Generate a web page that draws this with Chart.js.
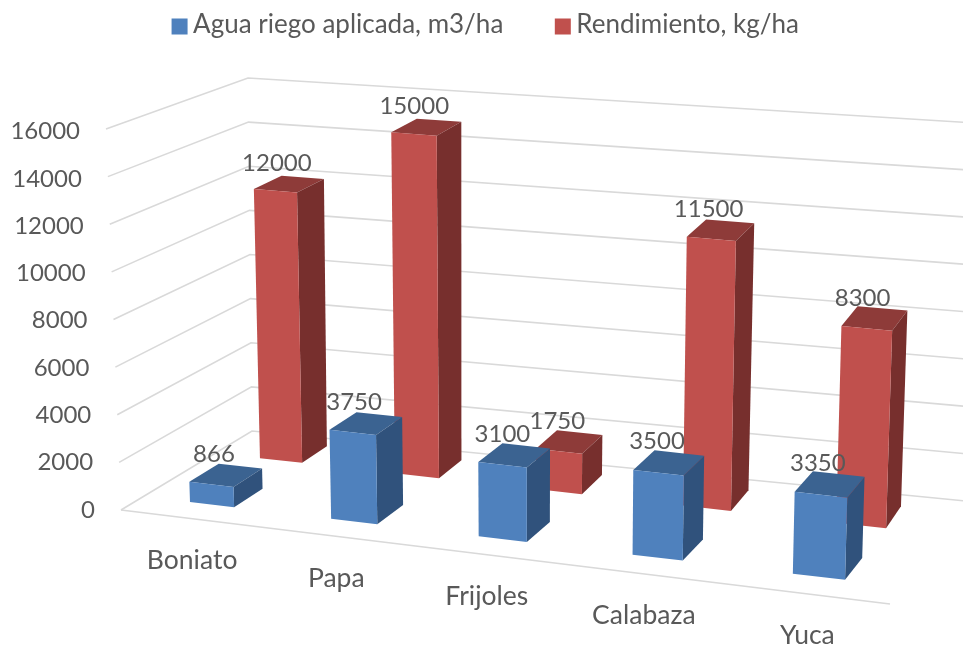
<!DOCTYPE html>
<html>
<head>
<meta charset="utf-8">
<title>Agua riego y rendimiento</title>
<script src="https://cdn.jsdelivr.net/npm/chart.js@4"></script>
<style>
    html, body { margin: 0; padding: 0; background: #ffffff; }
    #wrap { width: 963px; height: 645px; }
    /* the reference is a soft, upscaled screenshot */
    #chart { filter: blur(0.5px); }
</style>
</head>
<body>
<div id="wrap"><canvas id="chart"></canvas></div>
<script>
const categories = ["Boniato", "Papa", "Frijoles", "Calabaza", "Yuca"];
const agua = [866, 3750, 3100, 3500, 3350];
const rendimiento = [12000, 15000, 1750, 11500, 8300];
const yTicks = [0, 2000, 4000, 6000, 8000, 10000, 12000, 14000, 16000];

const textColor = "#595959";
const gridColor = "#d9d9d9";
const fontName = "Lato";

// corners of the 3D box on screen
const box = {
    frontBottomLeft: [121, 510], frontBottomRight: [890, 604],
    backBottomLeft: [252, 431], backBottomRight: [960, 500.5],
    frontTopLeft: [106, 129], frontTopRight: [902, 207],
    backTopLeft: [248, 78], backTopRight: [974, 123],
};

// depth slot of each series on the floor, and its face colours
const rows = [
    { near: 0.17, far: 0.40, front: "#4f81bd", top: "#3b6391", side: "#30527c" },
    { near: 0.72, far: 0.92, front: "#c0504d", top: "#8e3b39", side: "#772f2d" },
];

// the uneven side paddings push the legend off centre, this pulls it back
const legendShift = 16.5;

function lerp(a, b, t) {
    return a + (b - a) * t;
}

// u along the categories, v up the value axis, d into the picture
function project(u, v, d) {
    const out = [];
    for (let i = 0; i < 2; i++) {
        const bottomFront = lerp(box.frontBottomLeft[i], box.frontBottomRight[i], u);
        const bottomBack = lerp(box.backBottomLeft[i], box.backBottomRight[i], u);
        const topFront = lerp(box.frontTopLeft[i], box.frontTopRight[i], u);
        const topBack = lerp(box.backTopLeft[i], box.backTopRight[i], u);
        out.push(lerp(lerp(bottomFront, bottomBack, d), lerp(topFront, topBack, d), v));
    }
    // straight corner blending is a bit off mid depth compared to real perspective
    const sag = 9.48 * d * d * d * (1 - d);
    out[0] -= sag * 2.5 * v * (1 - u);
    out[1] += sag * (5 * u + 3.5 * v * (1 - u));
    return out;
}

// categories get wider towards the viewer on the right
function warp(u) {
    return u * (0.895 + 0.105 * u);
}

function fillFace(ctx, points, color) {
    ctx.beginPath();
    points.forEach((p, i) => (i ? ctx.lineTo(p[0], p[1]) : ctx.moveTo(p[0], p[1])));
    ctx.closePath();
    ctx.fillStyle = color;
    ctx.fill();
}

function strokePath(ctx, points) {
    ctx.beginPath();
    points.forEach((p, i) => (i ? ctx.lineTo(p[0], p[1]) : ctx.moveTo(p[0], p[1])));
    ctx.stroke();
}

const bars3d = {
    id: "bars3d",
    afterLayout(chart) {
        // keep the wide legend gap without pushing the legend down
        chart.legend.top = -32;
        chart.legend.left -= legendShift;
        chart.legend.right -= legendShift;
    },
    beforeDatasetsDraw(chart) {
        const ctx = chart.ctx;
        const xs = chart.scales.x;
        const ys = chart.scales.y;
        const toV = (pixel) => (ys.bottom - pixel) / (ys.bottom - ys.top);
        const toU = (pixel) => warp((pixel - xs.left) / (xs.right - xs.left));

        ctx.save();

        // walls and floor
        ctx.strokeStyle = gridColor;
        ctx.lineWidth = 1.6;
        yTicks.forEach((tick) => {
            const v = toV(ys.getPixelForValue(tick));
            strokePath(ctx, [project(0, v, 0), project(0, v, 1), project(1.01, v, 1)]);
        });
        strokePath(ctx, [project(0, 0, 0), project(1, 0, 0)]);

        // back row first so the front row covers it
        const labels = [];
        for (let s = rows.length - 1; s >= 0; s--) {
            const row = rows[s];
            chart.getDatasetMeta(s).data.forEach((bar, i) => {
                const u0 = toU(bar.x - bar.width / 2);
                const u1 = toU(bar.x + bar.width / 2);
                const v = toV(bar.y);
                const n = row.near;
                const f = row.far;
                fillFace(ctx, [project(u0, v, n), project(u1, v, n), project(u1, v, f), project(u0, v, f)], row.top);
                fillFace(ctx, [project(u1, 0, n), project(u1, 0, f), project(u1, v, f), project(u1, v, n)], row.side);
                fillFace(ctx, [project(u0, 0, n), project(u1, 0, n), project(u1, v, n), project(u0, v, n)], row.front);
                const mid = project((u0 + u1) / 2, v, (n + f) / 2);
                labels.push({ text: String(chart.data.datasets[s].data[i]), x: mid[0] - 12, y: mid[1] - 21 });
            });
        }

        ctx.fillStyle = textColor;
        ctx.textBaseline = "middle";

        ctx.font = "24px " + fontName;
        ctx.textAlign = "center";
        labels.forEach((l) => ctx.fillText(l.text, l.x, l.y));

        // value labels follow the left edge of the side wall
        ctx.textAlign = "right";
        yTicks.forEach((tick) => {
            const v = toV(ys.getPixelForValue(tick));
            const p = project(0, v, 0);
            ctx.fillText(String(tick), p[0] - 26, p[1] + 2.5 * v);
        });

        // category labels follow the front edge of the floor
        ctx.font = "26.5px " + fontName;
        ctx.textAlign = "center";
        categories.forEach((name, i) => {
            const p = project(toU(xs.getPixelForValue(i)), 0, 0);
            ctx.fillText(name, p[0] + 1.5, p[1] + 42);
        });

        // legend squares sit closer to their text than Chart.js allows
        chart.legend.legendHitBoxes.forEach((hit, i) => {
            ctx.fillStyle = rows[i].front;
            ctx.fillRect(hit.left + 7.5, 18.5, 16, 16);
        });

        ctx.restore();
        return false;
    },
};

new Chart(document.getElementById("chart"), {
    type: "bar",
    data: {
        labels: categories,
        datasets: [
            { label: "Agua riego aplicada, m3/ha", data: agua, backgroundColor: rows[0].front, grouped: false },
            { label: "Rendimiento, kg/ha", data: rendimiento, backgroundColor: rows[1].front, grouped: false },
        ],
    },
    options: {
        responsive: true,
        maintainAspectRatio: false,
        animation: false,
        barPercentage: 0.3175,
        categoryPercentage: 1,
        layout: { padding: { left: 106, right: 73, top: 16, bottom: 138 } },
        plugins: {
            tooltip: { enabled: false },
            legend: {
                position: "top",
                labels: {
                    boxWidth: 16,
                    boxHeight: 16,
                    padding: 44,
                    color: textColor,
                    font: { family: fontName, size: 26 },
                    generateLabels(chart) {
                        const items = Chart.defaults.plugins.legend.labels.generateLabels(chart);
                        return items.map((item) => ({ ...item, fillStyle: "transparent", strokeStyle: "transparent", lineWidth: 0 }));
                    },
                },
            },
        },
        scales: {
            x: { grid: { display: false }, border: { display: false }, ticks: { display: false } },
            y: {
                min: 0,
                max: 16000,
                afterBuildTicks(scale) {
                    scale.ticks = yTicks.map((value) => ({ value }));
                },
                grid: { display: false },
                border: { display: false },
                ticks: { display: false },
            },
        },
    },
    plugins: [bars3d],
});
</script>
</body>
</html>
